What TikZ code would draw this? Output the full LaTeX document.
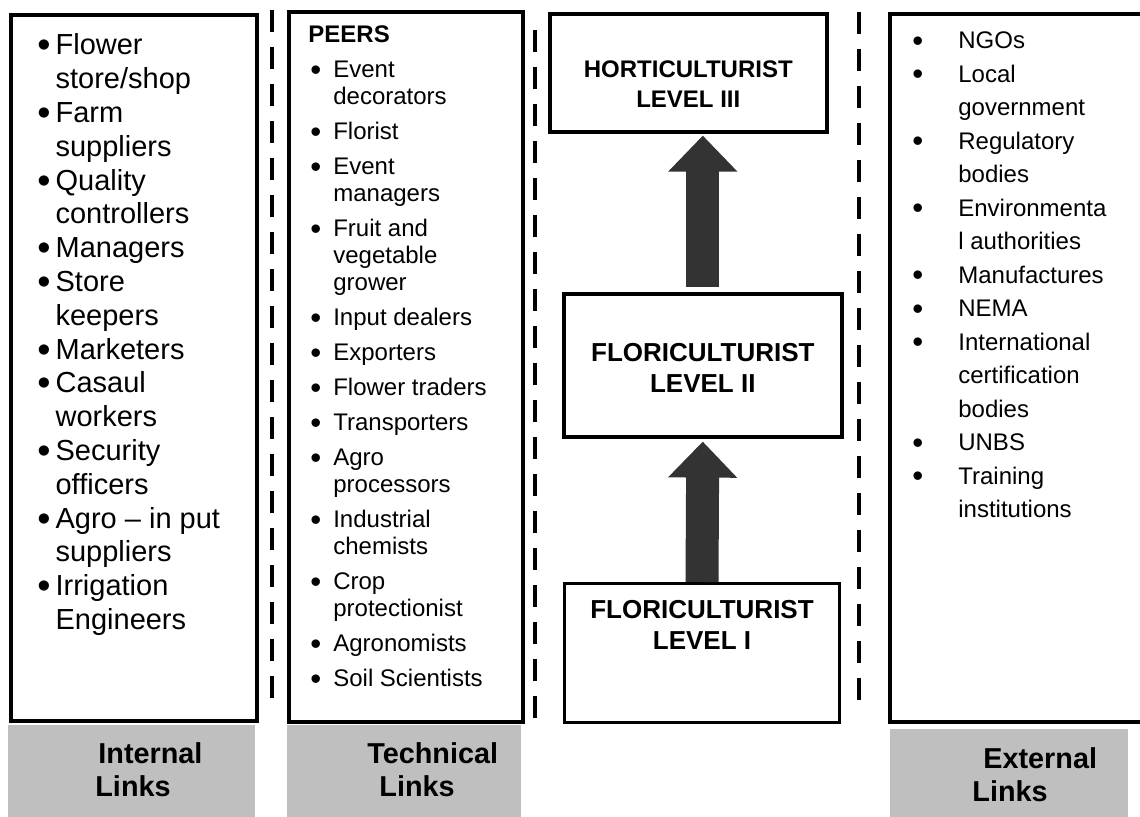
\documentclass[tikz,border=0pt]{standalone}
\usepackage{fontspec}
\setmainfont{Liberation Sans}
\usetikzlibrary{arrows.meta, math, positioning}
\definecolor{linkgray}{RGB}{191,191,191}
\definecolor{arrowgray}{RGB}{51,51,51}
\newcommand{\lbul}{\raisebox{-0.1em}{\scalebox{1.3}{\textbullet}}}

\tikzset{
  framebox/.style={draw, line width=1.8pt, inner sep=0pt, anchor=north west},
  linkbox/.style={fill=linkgray, inner sep=0pt, anchor=north west},
  listtext/.style={inner sep=0pt, anchor=base west},
  leveltext/.style={inner sep=0pt, anchor=base},
  divider/.style={line width=2.3pt, dash pattern=on 11pt off 7.5pt},
  uparrow/.style={line width=16.5pt, color=arrowgray, -{Triangle[length=18pt, width=33.5pt]}}
}

\begin{document}
\begin{tikzpicture}[x=0.5pt, y=-0.5pt]
\tikzmath{
\W=1140;
\H=817;
}
\useasboundingbox (0,0) rectangle (\W,\H);
\clip (0,0) rectangle (\W,\H);

%frames
\node[framebox, minimum width=123pt, minimum height=353pt] (intbox) at (9,13) {};
\node[framebox, minimum width=117pt, minimum height=355pt] (techbox) at (287,10) {};
\node[framebox, minimum width=136pt, minimum height=354pt] (extbox) at (888,12) {};

\foreach \x/\ya/\yb in {272/10/705, 535/30/722, 859/12/705}{
  \draw[divider] (\x,\ya) -- (\x,\yb);
}

%levels
\node[framebox, minimum width=138.5pt, minimum height=59pt] (lvlIII) at (548,12) {};
\node[framebox, minimum width=139pt, minimum height=71.5pt] (lvlII) at (562,292) {};
\node[framebox, line width=1.5pt, minimum width=137.5pt, minimum height=69.5pt] (lvlI) at (563,582) {};

\draw[uparrow, shorten >=1.5pt] (lvlI.north) -- (lvlII.south);
\draw[uparrow, shorten >=1pt, shorten <=2.5pt] (lvlII.north) -- (lvlII.north |- lvlIII.south);

\node[leveltext, font=\fontsize{12}{15}\bfseries] (lvlIIItext) at (lvlIII.north |- 0,78)
  {\begin{tabular}[t]{@{}c@{}}HORTICULTURIST\\LEVEL III\end{tabular}};
\node[leveltext, font=\fontsize{13}{15.5}\bfseries] (lvlIItext) at (lvlII.north |- 0,362)
  {\begin{tabular}[t]{@{}c@{}}FLORICULTURIST\\LEVEL II\end{tabular}};
\node[leveltext, font=\fontsize{13}{15.5}\bfseries] (lvlItext) at (lvlI.north |- 0,618)
  {\begin{tabular}[t]{@{}c@{}}FLORICULTURIST\\LEVEL I\end{tabular}};

%lists
\node[listtext, font=\fontsize{14.5}{16.9}\selectfont] (intlist) at (37,55) {%
\begin{tabular}[t]{@{}l@{\hspace{2.5pt}}l@{}}
\lbul & Flower\\
 & store/shop\\
\lbul & Farm\\
 & suppliers\\
\lbul & Quality\\
 & controllers\\
\lbul & Managers\\
\lbul & Store\\
 & keepers\\
\lbul & Marketers\\
\lbul & Casaul\\
 & workers\\
\lbul & Security\\
 & officers\\
\lbul & Agro – in put\\
 & suppliers\\
\lbul & Irrigation\\
 & Engineers
\end{tabular}};

\node[listtext, font=\fontsize{12}{13.5}\bfseries] (peers) at (308,43) {PEERS};
\node[listtext, font=\fontsize{12}{13.5}\selectfont] (techlist) at (310,78) {%
\begin{tabular}[t]{@{}l@{\hspace{6pt}}l@{}}
\lbul & Event\\
 & decorators\\[4pt]
\lbul & Florist\\[4pt]
\lbul & Event\\
 & managers\\[4pt]
\lbul & Fruit and\\
 & vegetable\\
 & grower\\[4pt]
\lbul & Input dealers\\[4pt]
\lbul & Exporters\\[4pt]
\lbul & Flower traders\\[4pt]
\lbul & Transporters\\[4pt]
\lbul & Agro\\
 & processors\\[4pt]
\lbul & Industrial\\
 & chemists\\[4pt]
\lbul & Crop\\
 & protectionist\\[4pt]
\lbul & Agronomists\\[4pt]
\lbul & Soil Scientists
\end{tabular}};

\node[listtext, font=\fontsize{12}{16.75}\selectfont] (extlist) at (912,49) {%
\begin{tabular}[t]{@{}l@{\hspace{17.5pt}}l@{}}
\lbul & NGOs\\
\lbul & Local\\
 & government\\
\lbul & Regulatory\\
 & bodies\\
\lbul & Environmenta\\
 & l authorities\\
\lbul & Manufactures\\
\lbul & NEMA\\
\lbul & International\\
 & certification\\
 & bodies\\
\lbul & UNBS\\
\lbul & Training\\
 & institutions
\end{tabular}};

%link tabs
\node[linkbox, minimum width=123.5pt, minimum height=46pt] (inttab) at (8,725) {};
\node[linkbox, minimum width=117pt, minimum height=46pt] (techtab) at (287,725) {};
\node[linkbox, minimum width=119pt, minimum height=44pt] (exttab) at (890,729) {};

\node[listtext, font=\fontsize{14.4}{16.5}\bfseries] (inttext) at (95,763)
  {\begin{tabular}[t]{@{}l@{}}\hspace*{1.5pt}Internal\\Links\end{tabular}};
\node[listtext, font=\fontsize{14.4}{16.5}\bfseries] (techtext) at (367,763)
  {\begin{tabular}[t]{@{}l@{}}Technical\\\hspace*{6pt}Links\end{tabular}};
\node[listtext, font=\fontsize{14.4}{16.5}\bfseries] (exttext) at (972,768)
  {\begin{tabular}[t]{@{}l@{}}\hspace*{5.5pt}External\\Links\end{tabular}};

\end{tikzpicture}
\end{document}
